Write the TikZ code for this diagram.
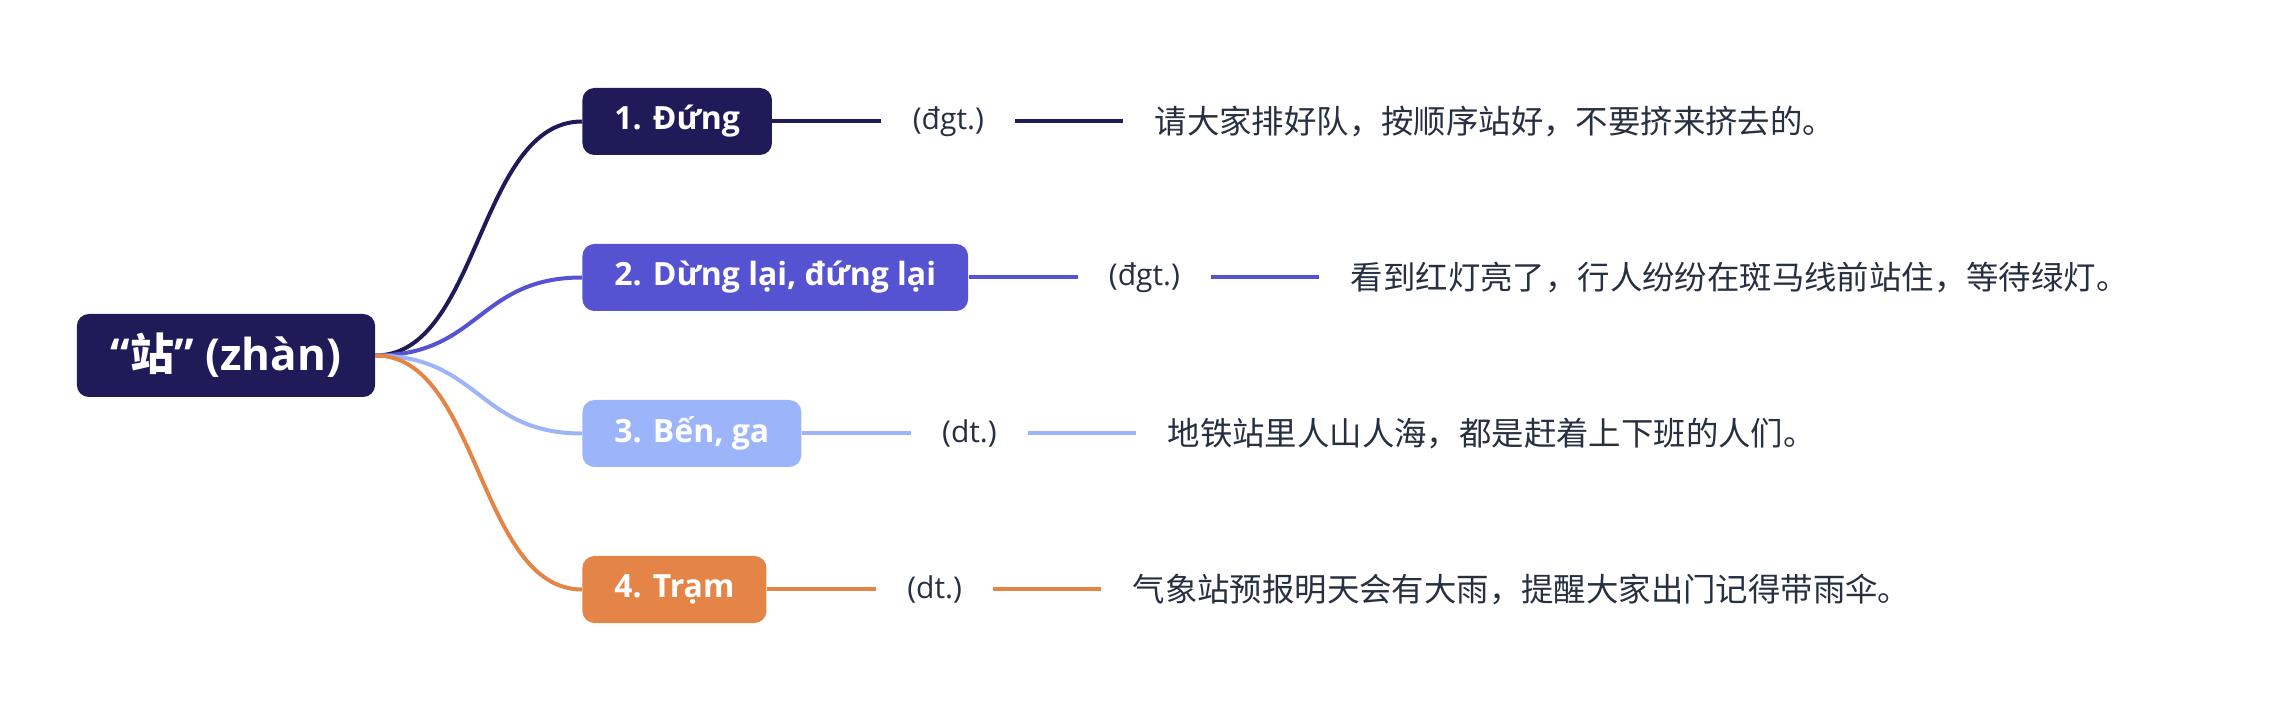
\documentclass[tikz,border=0pt]{standalone}
\usepackage{fontspec}
\setmainfont{Open Sans}
\newfontfamily\cjk{Noto Sans CJK SC}
\usepackage{tikz}
\usetikzlibrary{positioning}
\definecolor{cNavy}{HTML}{1E1B58}
\definecolor{cViolet}{HTML}{5653D3}
\definecolor{cSky}{HTML}{9CB4F9}
\definecolor{cOrange}{HTML}{E48446}
\definecolor{cText}{HTML}{263040}

\begin{document}
\begin{tikzpicture}[
x=0.5pt, y=-0.5pt,
root/.style={rounded corners=6pt, fill=cNavy, text=white, inner xsep=17pt,
  minimum height=41.5pt, font=\fontsize{22}{26}\selectfont\bfseries},
branch/.style={rounded corners=6pt, text=white, inner xsep=16pt, anchor=west,
  minimum height=33.5pt, font=\fontsize{16}{19}\selectfont\bfseries},
tag/.style={text=cText, inner xsep=15.5pt, inner ysep=0pt, font=\fontsize{15}{18}\selectfont},
sentence/.style={text=cText, inner xsep=15.5pt, inner ysep=0pt, font=\cjk\fontsize{16.2}{19}\selectfont},
link/.style={line width=2pt}
]
\useasboundingbox (0,0) rectangle (2277,721);

% Wurzel
\node[root] (root) at (226,355.5) {“{\cjk 站}” (zhàn)};

% Zweige: Nummer/Farbe/Bedeutung/Wortart/Beispiel
\foreach \i/\col/\name/\tg/\sent in {
  1/cNavy/{1. Đứng}/{(đgt.)}/{请大家排好队，按顺序站好，不要挤来挤去的。},
  2/cViolet/{2. Dừng lại, đứng lại}/{(đgt.)}/{看到红灯亮了，行人纷纷在斑马线前站住，等待绿灯。},
  3/cSky/{3. Bến, ga}/{(dt.)}/{地铁站里人山人海，都是赶着上下班的人们。},
  4/cOrange/{4. Trạm}/{(dt.)}/{气象站预报明天会有大雨，提醒大家出门记得带雨伞。}}
{
  \pgfmathsetmacro{\yy}{121.5+156*(\i-1)}
  \node[branch, fill=\col] (n\i) at (582,\yy) {\name};
  \node[tag, right=54.5pt of n\i] (t\i) {\tg};
  \node[sentence, right=54pt of t\i] (s\i) {\sent};
  % Verbindungen
  \draw[link, \col] (root.east) .. controls +(104,0) and +(-104,0) .. (n\i.west);
  \draw[link, \col] (n\i) -- (t\i) (t\i) -- (s\i);
}
\end{tikzpicture}
\end{document}
